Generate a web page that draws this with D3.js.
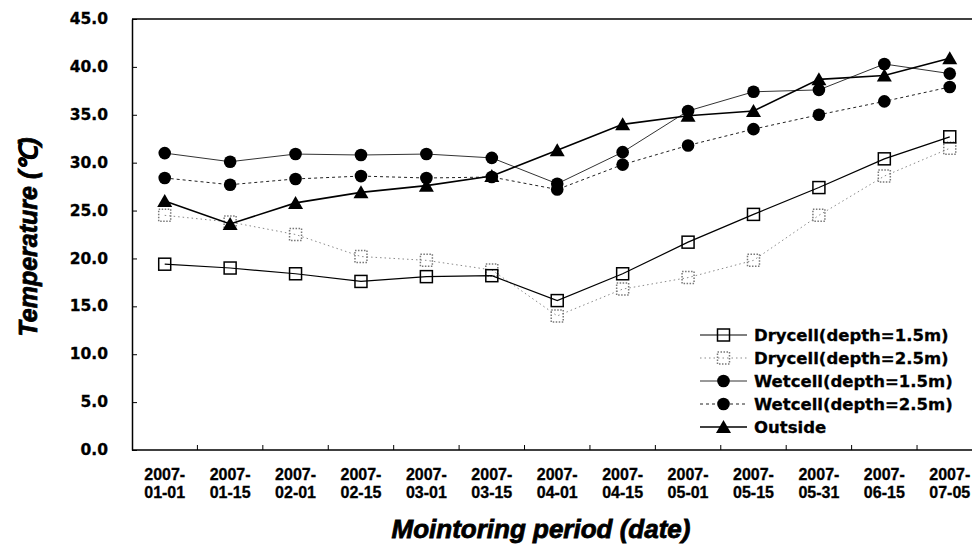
<!DOCTYPE html>
<html lang="en">
<head>
  <meta charset="UTF-8">
  <title>Temperature monitoring</title>
  <script src="https://d3js.org/d3.v7.min.js"></script>
  <style>
    body { margin: 0; background: #fff; }
  </style>
</head>
<body>
  <script>
    "use strict";
    // data
    var dates = ["2007-01-01", "2007-01-15", "2007-02-01", "2007-02-15", "2007-03-01", "2007-03-15",
      "2007-04-01", "2007-04-15", "2007-05-01", "2007-05-15", "2007-05-31", "2007-06-15", "2007-07-05"];
    var dry15 = [19.4, 19.0, 18.4, 17.6, 18.1, 18.2, 15.6, 18.4, 21.7, 24.6, 27.4, 30.4, 32.7];
    var dry25 = [24.5, 23.8, 22.5, 20.2, 19.8, 18.8, 14.0, 16.8, 18.0, 19.8, 24.5, 28.6, 31.5];
    var wet15 = [31.0, 30.1, 30.9, 30.8, 30.9, 30.5, 27.8, 31.1, 35.4, 37.4, 37.6, 40.3, 39.3];
    var wet25 = [28.4, 27.7, 28.3, 28.6, 28.4, 28.5, 27.2, 29.8, 31.8, 33.5, 35.0, 36.4, 37.9];
    var outside = [26.0, 23.6, 25.8, 26.9, 27.6, 28.6, 31.3, 34.0, 34.9, 35.4, 38.7, 39.1, 40.9];
    var yTicks = [0, 5, 10, 15, 20, 25, 30, 35, 40, 45];

    var series = [
      { name: "Drycell(depth=1.5m)", values: dry15, marker: "square", stroke: "#000", width: 1.2, dash: null, mStroke: "#000", mDash: null },
      { name: "Drycell(depth=2.5m)", values: dry25, marker: "square", stroke: "#8a8a8a", width: 1, dash: "1.5,3", mStroke: "#777", mDash: "1.5,1.5" },
      { name: "Wetcell(depth=1.5m)", values: wet15, marker: "circle", stroke: "#333", width: 1, dash: null },
      { name: "Wetcell(depth=2.5m)", values: wet25, marker: "circle", stroke: "#222", width: 1, dash: "3,3" },
      { name: "Outside", values: outside, marker: "triangle", stroke: "#000", width: 1.6, dash: null }
    ];
    var drawOrder = [1, 0, 3, 2, 4];

    var W = 972, H = 548;
    var plotLeft = 132, plotTop = 19, plotBottom = 450, band = 65.42;

    var svg = d3.select("body").append("svg")
      .attr("width", W)
      .attr("height", H);

    var x = d3.scaleBand()
      .domain(dates)
      .range([plotLeft, plotLeft + band * dates.length])
      .paddingInner(0).paddingOuter(0);
    var y = d3.scaleLinear().domain([0, 45]).range([plotBottom, plotTop]);

    function cx(i) { return x(dates[i]) + x.bandwidth() / 2; }

    // frame: left axis, bottom axis, top border
    var yAxis = d3.axisLeft(y)
      .tickValues(yTicks)
      .tickFormat(d3.format(".1f"))
      .tickSizeInner(-5)
      .tickSizeOuter(0)
      .tickPadding(28);
    var gy = svg.append("g").attr("transform", "translate(" + plotLeft + ",0)").call(yAxis);
    gy.select(".domain").attr("stroke", "#000").attr("stroke-width", 1.5);
    gy.selectAll(".tick line").attr("stroke", "#000").attr("stroke-width", 1);
    gy.selectAll(".tick text")
      .attr("font-family", "DejaVu Sans")
      .attr("font-weight", "bold")
      .attr("font-size", "15.5px")
      .attr("fill", "#000")
      .attr("stroke", "#000")
      .attr("stroke-width", 0.3)
      .attr("x", -24)
      .attr("dy", "0.3em");

    svg.append("line")
      .attr("x1", plotLeft).attr("x2", W)
      .attr("y1", plotBottom).attr("y2", plotBottom)
      .attr("stroke", "#000").attr("stroke-width", 1.5);
    svg.append("line")
      .attr("x1", plotLeft).attr("x2", W)
      .attr("y1", y(45)).attr("y2", y(45))
      .attr("stroke", "#000").attr("stroke-width", 1.3);

    // x tick marks at band boundaries, pointing in
    svg.selectAll(".xtick")
      .data(dates.slice(1))
      .enter().append("line")
      .attr("x1", function (d) { return x(d); })
      .attr("x2", function (d) { return x(d); })
      .attr("y1", plotBottom).attr("y2", plotBottom - 5)
      .attr("stroke", "#000");

    // x labels on two lines
    var xl = svg.selectAll(".xlab")
      .data(dates)
      .enter().append("text")
      .attr("text-anchor", "middle")
      .attr("font-family", "Liberation Sans, Arial, sans-serif")
      .attr("font-weight", "bold")
      .attr("font-size", "16px")
      .attr("fill", "#000")
      .attr("stroke", "#000")
      .attr("stroke-width", 0.3);
    xl.append("tspan")
      .attr("x", function (d, i) { return cx(i); })
      .attr("y", 480)
      .text(function (d) { return d.slice(0, 5); });
    xl.append("tspan")
      .attr("x", function (d, i) { return cx(i); })
      .attr("y", 498)
      .text(function (d) { return d.slice(5); });

    // axis titles
    svg.append("text")
      .attr("transform", "translate(37,237) rotate(-90)")
      .attr("text-anchor", "middle")
      .attr("font-family", "Liberation Sans, Arial, sans-serif")
      .attr("font-weight", "bold")
      .attr("font-style", "italic")
      .attr("font-size", "25px")
      .attr("stroke", "#000")
      .attr("stroke-width", 0.8)
      .text("Temperature (\u2103)");
    svg.append("text")
      .attr("x", 541).attr("y", 538)
      .attr("text-anchor", "middle")
      .attr("font-family", "Liberation Sans, Arial, sans-serif")
      .attr("font-weight", "bold")
      .attr("font-style", "italic")
      .attr("font-size", "26px")
      .attr("stroke", "#000")
      .attr("stroke-width", 0.8)
      .text("Mointoring period (date)");

    // markers
    function drawMarker(g, s, px, py) {
      if (s.marker === "square") {
        g.append("rect")
          .attr("x", px - 6).attr("y", py - 6)
          .attr("width", 12).attr("height", 12)
          .attr("fill", "none")
          .attr("stroke", s.mStroke)
          .attr("stroke-width", 1.5)
          .attr("stroke-dasharray", s.mDash);
      } else if (s.marker === "circle") {
        g.append("circle")
          .attr("cx", px).attr("cy", py).attr("r", 6.3)
          .attr("fill", "#000");
      } else {
        g.append("path")
          .attr("d", "M" + px + "," + (py - 7) + "L" + (px + 7.5) + "," + (py + 6) + "L" + (px - 7.5) + "," + (py + 6) + "Z")
          .attr("fill", "#000");
      }
    }

    var line = d3.line()
      .x(function (d, i) { return cx(i); })
      .y(function (d) { return y(d); });

    drawOrder.forEach(function (k) {
      var s = series[k];
      var g = svg.append("g");
      g.append("path")
        .datum(s.values)
        .attr("fill", "none")
        .attr("stroke", s.stroke)
        .attr("stroke-width", s.width)
        .attr("stroke-dasharray", s.dash)
        .attr("d", line);
      s.values.forEach(function (v, i) { drawMarker(g, s, cx(i), y(v)); });
    });

    // legend
    var lg = svg.append("g");
    series.forEach(function (s, i) {
      var ly = 335 + i * 23;
      var g = lg.append("g");
      g.append("line")
        .attr("x1", 700).attr("x2", 747)
        .attr("y1", ly).attr("y2", ly)
        .attr("stroke", s.stroke)
        .attr("stroke-width", s.width)
        .attr("stroke-dasharray", s.dash);
      drawMarker(g, s, 723.5, ly);
      g.append("text")
        .attr("x", 754).attr("y", ly + 6)
        .attr("font-family", "DejaVu Sans")
        .attr("font-weight", "bold")
        .attr("font-size", "16.5px")
        .attr("stroke", "#000")
        .attr("stroke-width", 0.3)
        .text(s.name);
    });
  </script>
</body>
</html>
